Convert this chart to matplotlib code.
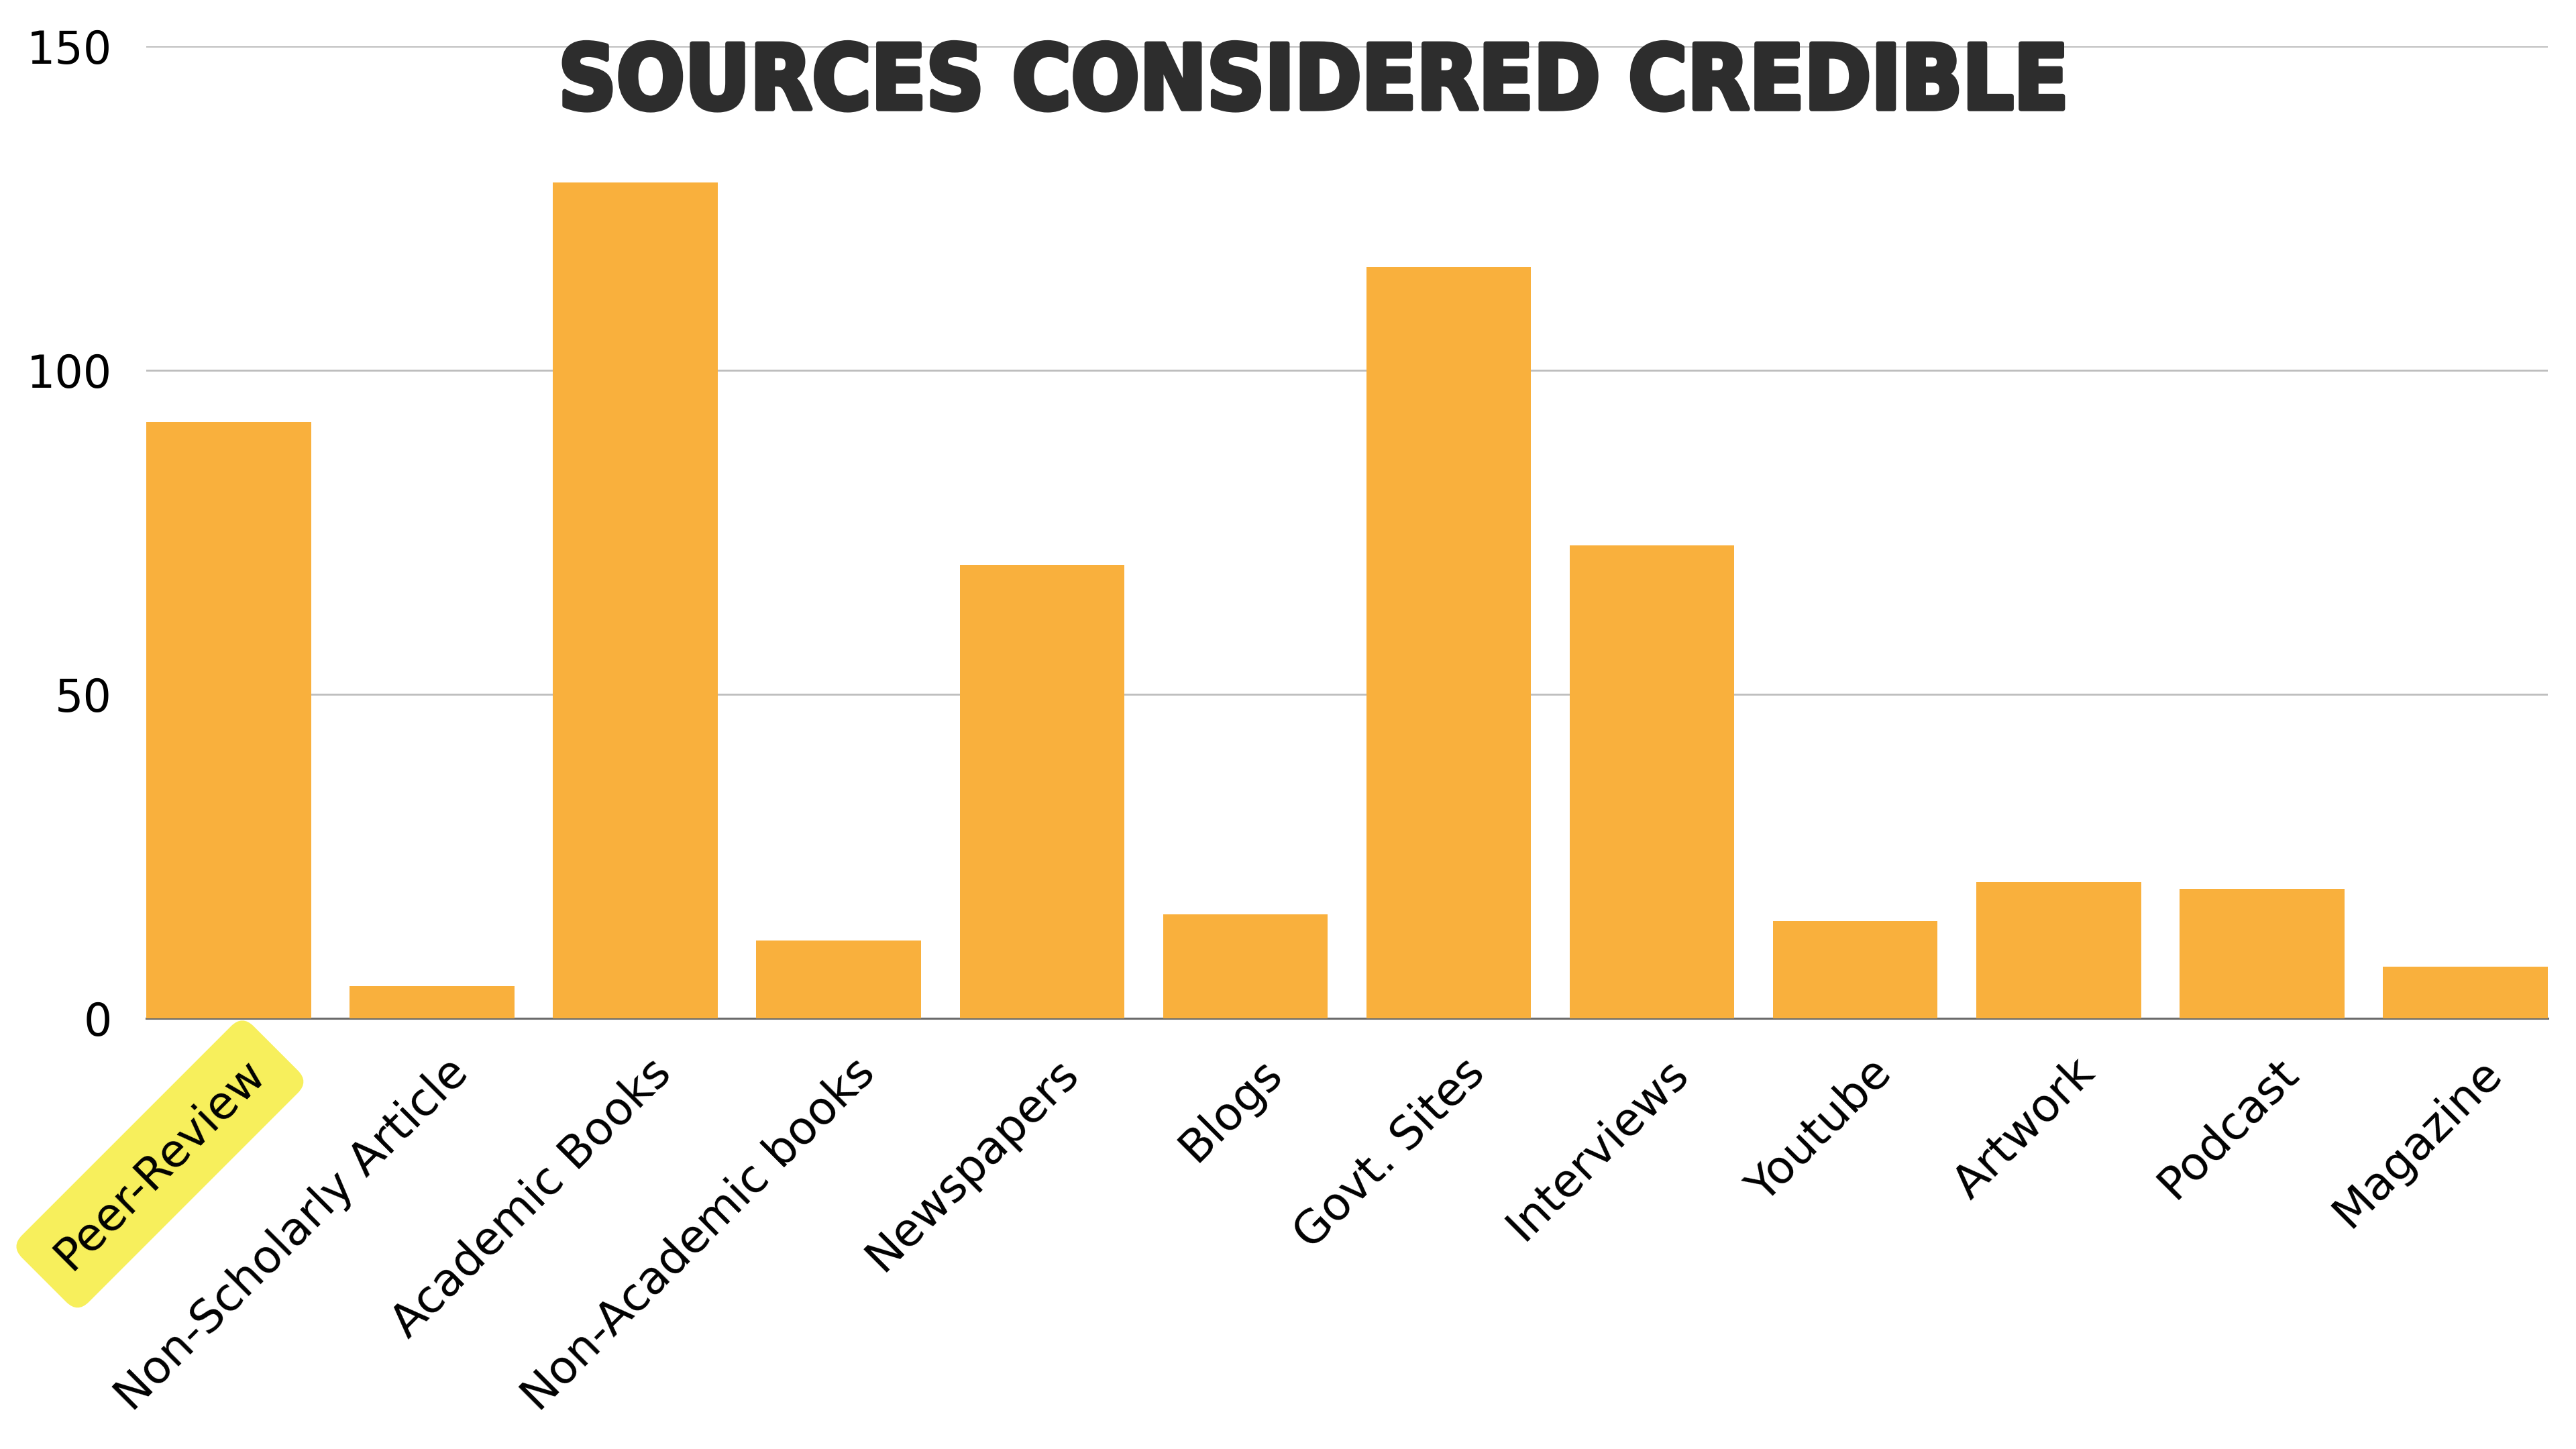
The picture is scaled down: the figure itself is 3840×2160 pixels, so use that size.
import numpy as np
import matplotlib.pyplot as plt
import matplotlib.patheffects as pe
from matplotlib.transforms import ScaledTranslation

# survey counts: which sources people consider credible
sources = ['Peer-Review', 'Non-Scholarly Article', 'Academic Books', 'Non-Academic books',
           'Newspapers', 'Blogs', 'Govt. Sites', 'Interviews', 'Youtube', 'Artwork',
           'Podcast', 'Magazine']
counts = [92, 5, 129, 12, 70, 16, 116, 73, 15, 21, 20, 8]
yticks = [0, 50, 100, 150]

bar_color = '#F9B03D'
bar_w = 0.81

fig = plt.figure(figsize=(38.4, 21.6), dpi=100)
ax = fig.add_axes([0.0568, 0.2972, 0.9322, 0.6708])

x = np.arange(len(sources))
ax.bar(x, counts, width=bar_w, color=bar_color, zorder=3)

ax.set_xlim(-bar_w / 2, len(sources) - 1 + bar_w / 2)
ax.set_ylim(0, 150)
ax.set_yticks(yticks)
ax.set_yticklabels([str(t) for t in yticks])
ax.yaxis.grid(True, color='#BDBDBD', linewidth=2.0, zorder=0)
ax.set_axisbelow(True)

for s in ['top', 'right', 'left']:
    ax.spines[s].set_visible(False)
ax.spines['bottom'].set_color('#6B6B6B')
ax.spines['bottom'].set_linewidth(2.2)
ax.spines['bottom'].set_zorder(2)

ax.tick_params(axis='y', length=0, pad=37, labelsize=48, labelcolor='black')
ax.tick_params(axis='x', length=0, pad=20, labelsize=49, labelcolor='black')

ax.set_xticks(x)
labels = ax.set_xticklabels(sources, rotation=45, ha='right', va='top')
shift = ScaledTranslation(0.67, -0.2, fig.dpi_scale_trans)
for lab in labels:
    lab.set_transform(lab.get_transform() + shift)

# marker-style highlight behind the first label
labels[0].set_bbox(dict(boxstyle='round,pad=0.55,rounding_size=0.35',
                        fc='#F7EF5C', ec='none'))

fig.text(0.51, 0.942, 'SOURCES CONSIDERED CREDIBLE', ha='center', va='center',
         fontsize=96, fontweight='heavy', fontstretch='condensed',
         color='#2D2D2D', family='DejaVu Sans',
         path_effects=[pe.withStroke(linewidth=5, foreground='#2D2D2D')])

fig.savefig('out.png', dpi=100, facecolor='white')
